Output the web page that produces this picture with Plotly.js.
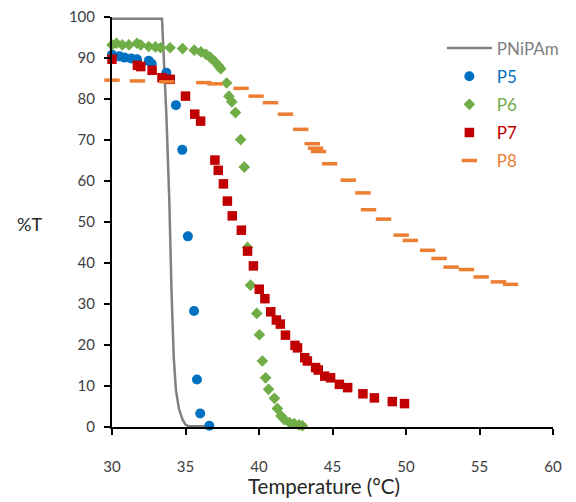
<!DOCTYPE html>
<html>
<head>
<meta charset="utf-8">
<script src="https://cdn.plot.ly/plotly-3.0.1.min.js"></script>
<style>html,body{margin:0;padding:0;background:#fff;}#chart{width:576px;height:502px;}</style>
</head>
<body>
<div id="chart"></div>
<script>
// PNiPAm (line)
const pnipamX = [30, 33.4, 33.7, 33.9, 34.05, 34.2, 34.35, 34.55, 34.8, 35.0, 35.2, 36.6];
const pnipamY = [99.6, 99.6, 76, 55, 33, 17, 9, 4.5, 1.8, 0.6, 0.2, 0.2];

// P5 (circles)
const p5X = [30.0, 30.5, 30.85, 31.3, 31.7, 32.5, 32.7, 33.7, 34.35, 34.78, 35.16, 35.58, 35.78, 36.0, 36.62];
const p5Y = [90.8, 90.4, 90.1, 89.9, 89.7, 89.3, 88.6, 86.4, 78.5, 67.6, 46.5, 28.3, 11.6, 3.3, 0.3];

// P6 (diamonds)
const p6X = [30.0, 30.3, 30.7, 31.15, 31.7, 31.95, 32.5, 32.95, 33.3, 33.95, 34.8, 35.6, 36.05, 36.4, 36.7, 37.0, 37.25, 37.4, 37.8, 37.95, 38.15, 38.4, 38.75, 39.0, 39.22, 39.42, 39.85, 40.03, 40.23, 40.45, 40.65, 41.05, 41.25, 41.5, 41.73, 42.07, 42.4, 42.73, 42.95];
const p6Y = [93.2, 93.6, 93.2, 93.2, 93.6, 93.2, 92.8, 92.7, 92.5, 92.5, 92.3, 91.9, 91.5, 90.9, 90.1, 89.1, 88.1, 87.4, 83.9, 80.7, 79.3, 76.7, 70.1, 63.4, 43.8, 34.6, 27.7, 22.5, 16.1, 12.0, 9.2, 7.0, 4.5, 2.7, 1.8, 1.1, 0.8, 0.5, 0.3];

// P7 (squares)
const p7X = [30.0, 31.73, 31.96, 32.73, 33.4, 33.96, 35.0, 35.63, 36.03, 37.0, 37.23, 37.58, 37.85, 38.18, 38.8, 39.22, 39.62, 40.02, 40.4, 40.8, 41.18, 41.45, 41.8, 42.45, 42.62, 43.11, 43.29, 43.85, 44.03, 44.47, 44.87, 45.47, 46.03, 47.07, 47.85, 49.07, 49.9];
const p7Y = [89.7, 88.2, 87.9, 87.0, 85.2, 84.8, 80.7, 76.3, 74.6, 65.1, 62.6, 59.3, 55.1, 51.5, 48.0, 42.9, 39.3, 33.6, 31.3, 28.1, 26.1, 25.1, 22.4, 19.9, 19.3, 16.9, 16.1, 14.5, 13.9, 12.4, 12.0, 10.4, 9.6, 8.1, 7.1, 6.2, 5.7];

// P8 (dashes)
const p8X = [30.0, 31.73, 33.73, 36.25, 37.0, 38.78, 39.8, 40.78, 41.8, 42.84, 43.62, 43.85, 44.05, 44.8, 46.07, 47.07, 47.45, 48.47, 49.67, 50.29, 51.47, 52.25, 53.07, 54.11, 55.11, 56.29, 57.11];
const p8Y = [84.6, 84.4, 84.2, 84.0, 83.7, 82.6, 80.7, 79.1, 76.3, 72.6, 69.1, 68.0, 67.2, 64.2, 60.2, 57.1, 53.0, 50.7, 46.8, 45.5, 43.1, 41.1, 39.0, 38.4, 36.6, 35.4, 34.8];

const xTicks = [30, 35, 40, 45, 50, 55, 60];
const yTicks = [0, 10, 20, 30, 40, 50, 60, 70, 80, 90, 100];

const C = {gray: '#808080', blue: '#0070C0', green: '#70AD47', red: '#C00000', orange: '#ED7D31'};
const FONT = 'Lato, "Open Sans", sans-serif';

function lbl(t, c) { return '<span style="color:' + c + '">' + t + '</span>'; }

const traces = [
  {x: pnipamX, y: pnipamY, type: 'scatter', mode: 'lines', name: lbl('PNiPAm', C.gray),
   line: {color: C.gray, width: 2.5}, legendgroup: 'a', cliponaxis: false},
  {x: p5X, y: p5Y, type: 'scatter', mode: 'markers', name: lbl('P5', C.blue),
   marker: {symbol: 'circle', size: 10, color: C.blue}, legendgroup: 'b', cliponaxis: false},
  {x: p6X, y: p6Y, type: 'scatter', mode: 'markers', name: lbl('P6', C.green),
   marker: {symbol: 'diamond', size: 9, color: C.green}, legendgroup: 'c', cliponaxis: false},
  {x: p7X, y: p7Y, type: 'scatter', mode: 'markers', name: lbl('P7', C.red),
   marker: {symbol: 'square', size: 9.5, color: C.red}, legendgroup: 'd', cliponaxis: false},
  {x: p8X, y: p8Y, type: 'scatter', mode: 'markers', name: lbl('P8', C.orange),
   marker: {symbol: 'line-ew', size: 11, color: C.orange, line: {color: C.orange, width: 3.5}}, legendgroup: 'e', cliponaxis: false}
];

const layout = {
  width: 576, height: 502,
  margin: {l: 112, r: 12, t: 17, b: 75},
  paper_bgcolor: '#fff', plot_bgcolor: '#fff',
  font: {family: FONT, size: 15, color: '#404040'},
  showlegend: true,
  legend: {x: 0.748, y: 0.967, xanchor: 'left', yanchor: 'top', bgcolor: 'rgba(0,0,0,0)',
           font: {family: FONT, size: 17}, traceorder: 'grouped', tracegroupgap: 3, itemwidth: 45},
  xaxis: {range: [30, 60], tickvals: xTicks, ticktext: xTicks.map(String), showgrid: false, zeroline: false,
          showline: true, linecolor: '#000', linewidth: 2, ticks: 'outside', ticklen: 6, tickwidth: 2,
          tickcolor: '#000', ticklabelstandoff: 19, tickfont: {family: FONT, size: 15, color: '#404040'}},
  yaxis: {range: [0, 100], tickvals: yTicks, ticktext: yTicks.map(String), showgrid: false, zeroline: false,
          showline: true, linecolor: '#000', linewidth: 2, ticks: 'outside', ticklen: 6, tickwidth: 2,
          tickcolor: '#000', ticklabelstandoff: 6, tickfont: {family: FONT, size: 15, color: '#404040'}},
  annotations: [
    {text: '%T', xref: 'paper', yref: 'paper', x: -0.188, y: 0.496, xanchor: 'center', yanchor: 'middle',
     showarrow: false, font: {family: FONT, size: 18, color: '#262626'}},
    {text: 'Temperature (°C)', xref: 'paper', yref: 'paper', x: 0.48, y: -0.144, xanchor: 'center', yanchor: 'middle',
     showarrow: false, font: {family: FONT, size: 20.5, color: '#262626'}}
  ]
};

Plotly.newPlot('chart', traces, layout, {staticPlot: true, displayModeBar: false});
</script>
</body>
</html>
